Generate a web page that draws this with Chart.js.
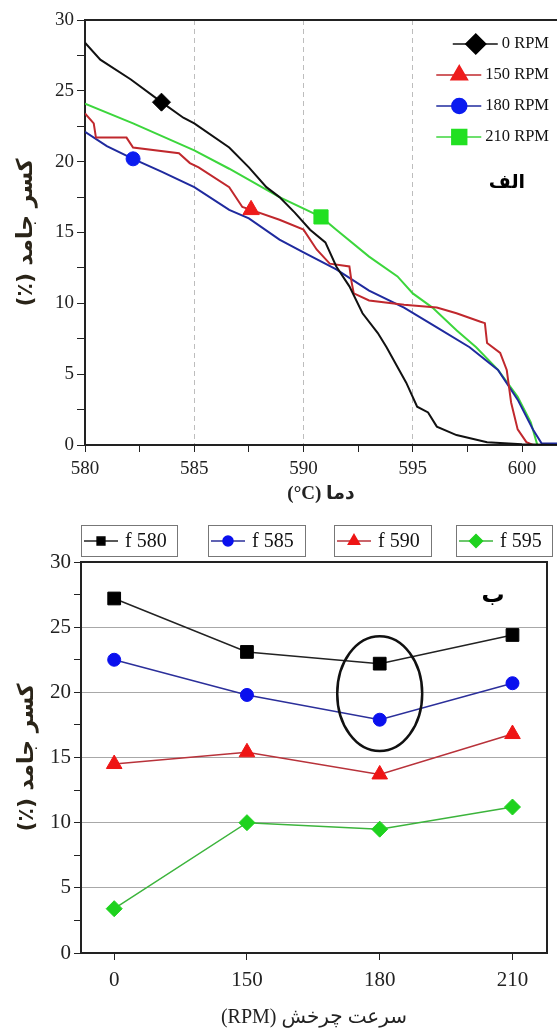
<!DOCTYPE html>
<html>
<head>
<meta charset="utf-8">
<script src="https://cdn.jsdelivr.net/npm/chart.js@4.4.1/dist/chart.umd.min.js"></script>
<style>
  html, body { margin: 0; padding: 0; background: #fff; }
  #top { position: absolute; left: 0; top: 0; }
  #bottom { position: absolute; left: 0; top: 510px; }
</style>
</head>
<body>
<canvas id="top" width="557" height="510"></canvas>
<canvas id="bottom" width="557" height="526"></canvas>
<script>
// --- chart (الف): solid fraction vs temperature ---
const rpm0Temp = [580, 580.7, 582.1, 583.5, 584.5, 585, 586.6, 587.5, 588.3, 588.9, 589.6, 590.3, 591.0, 591.5, 592.1, 592.7, 593.4, 593.8, 594.3, 594.7, 595.2, 595.7, 596.1, 597.0, 598.4, 600.0, 601.6];
const rpm0Frac = [28.4, 27.2, 25.8, 24.2, 23.1, 22.7, 21.0, 19.6, 18.2, 17.5, 16.4, 15.2, 14.3, 12.6, 11.2, 9.3, 7.9, 6.9, 5.5, 4.4, 2.7, 2.3, 1.3, 0.7, 0.2, 0.05, 0];

const rpm150Temp = [580, 580.4, 580.5, 581.9, 582.2, 584.3, 584.8, 585.2, 586.6, 587.2, 587.6, 588.9, 590.0, 590.6, 591.2, 592.1, 592.2, 592.3, 593.0, 594.6, 596.1, 597.0, 598.1, 598.3, 598.4, 599.0, 599.3, 599.5, 599.8, 600.2, 600.5];
const rpm150Frac = [23.4, 22.7, 21.7, 21.7, 21.0, 20.6, 19.9, 19.6, 18.2, 16.8, 16.6, 15.9, 15.2, 13.8, 12.8, 12.6, 11.5, 10.7, 10.2, 9.9, 9.7, 9.3, 8.7, 8.6, 7.2, 6.5, 5.3, 3.0, 1.1, 0.2, 0];

const rpm180Temp = [580, 581, 582.2, 583.5, 585, 586.6, 587.5, 588.9, 590, 591.5, 593.0, 594.6, 596.1, 597.6, 598.9, 599.8, 600.5, 600.9, 601.6];
const rpm180Frac = [22.1, 21.1, 20.2, 19.3, 18.2, 16.6, 16.0, 14.5, 13.6, 12.4, 10.9, 9.7, 8.3, 6.9, 5.3, 3.2, 1.1, 0.1, 0.1];

const rpm210Temp = [580, 582.2, 585, 586.6, 588.9, 590.8, 591.5, 593.0, 594.3, 595.0, 595.9, 597.0, 597.9, 598.9, 599.8, 600.4, 600.7];
const rpm210Frac = [24.1, 22.7, 20.8, 19.5, 17.5, 16.1, 15.2, 13.3, 11.9, 10.7, 9.7, 8.1, 6.9, 5.3, 3.4, 1.6, 0];

// index of the one marker drawn on each curve
const markerIndex = [3, 10, 2, 5];
const rpmLabels = ['0 RPM', '150 RPM', '180 RPM', '210 RPM'];
const tempTicks = [580, 582.5, 585, 587.5, 590, 592.5, 595, 597.5, 600];
const fracTicks = [0, 2.5, 5, 7.5, 10, 12.5, 15, 17.5, 20, 22.5, 25, 27.5, 30];

// --- chart (ب): solid fraction vs rotation speed ---
const speedLabels = ['0', '150', '180', '210'];
const f580 = [27.2, 23.1, 22.2, 24.4];
const f585 = [22.5, 19.8, 17.9, 20.7];
const f590 = [14.5, 15.4, 13.7, 16.8];
const f595 = [3.4, 10.0, 9.5, 11.2];
const seriesLabels = ['f 580', 'f 585', 'f 590', 'f 595'];

const serif = '"Liberation Serif", "DejaVu Serif", serif';
const persian = '"DejaVu Sans", sans-serif';
const RLE = '\u202B', PDF = '\u202C', LRM = '\u200E';

const toPoints = (xs, ys) => xs.map((x, i) => ({x: x, y: ys[i]}));
const minorFive = v => (Math.abs(v % 5) < 1e-6 ? String(v) : '');

function drawMarker(ctx, style, r, fill, x, y) {
  ctx.fillStyle = fill;
  ctx.strokeStyle = fill;
  Chart.helpers.drawPoint(ctx, {pointStyle: style, radius: r, borderWidth: 1, rotation: 0}, x, y);
}

const topLegend = {
  id: 'topLegend',
  afterDraw(chart) {
    const ctx = chart.ctx;
    ctx.save();
    ctx.font = '16.5px ' + serif;
    ctx.textBaseline = 'middle';
    chart.data.datasets.forEach((ds, i) => {
      const y = 44 + i * 31;
      const w = ctx.measureText(ds.label).width;
      const textX = 549 - w;
      const cx = textX - 26;
      ctx.strokeStyle = ds.borderColor;
      ctx.lineWidth = 1.5;
      ctx.beginPath();
      ctx.moveTo(cx - 23, y);
      ctx.lineTo(cx + 22, y);
      ctx.stroke();
      drawMarker(ctx, ds.pointStyle, ds.legendRadius, ds.pointBackgroundColor, cx, y);
      ctx.fillStyle = '#111';
      ctx.textAlign = 'left';
      ctx.fillText(ds.label, textX, y);
    });
    ctx.font = 'bold 19px ' + persian;
    ctx.textAlign = 'center';
    ctx.fillStyle = '#000';
    ctx.fillText('الف', 507, 183);
    // top frame line
    const a = chart.chartArea;
    ctx.strokeStyle = '#222';
    ctx.lineWidth = 2;
    ctx.beginPath();
    ctx.moveTo(a.left, a.top);
    ctx.lineTo(a.right, a.top);
    ctx.stroke();
    ctx.restore();
  }
};

const bottomDecor = {
  id: 'bottomDecor',
  afterDatasetsDraw(chart) {
    const ctx = chart.ctx;
    const {x, y} = chart.scales;
    const a = chart.chartArea;
    ctx.save();
    // frame top + right
    ctx.strokeStyle = '#222';
    ctx.lineWidth = 2;
    ctx.beginPath();
    ctx.moveTo(a.left, a.top);
    ctx.lineTo(a.right, a.top);
    ctx.lineTo(a.right, a.bottom);
    ctx.stroke();
    // ellipse around the 180 RPM points
    const cx = x.getPixelForValue(2), cy = y.getPixelForValue(19.9);
    const rx = x.getPixelForValue(2.32) - cx;
    const ry = cy - y.getPixelForValue(24.3);
    ctx.lineWidth = 2.5;
    ctx.strokeStyle = '#111';
    ctx.beginPath();
    ctx.ellipse(cx, cy, rx, ry, 0, 0, Math.PI * 2);
    ctx.stroke();
    ctx.font = 'bold 23px ' + persian;
    ctx.fillStyle = '#000';
    ctx.textAlign = 'center';
    ctx.textBaseline = 'middle';
    ctx.fillText('ب', 493, 86);
    // boxed legend
    const boxes = [81, 208, 334, 456];
    const boxW = [96, 97, 97, 96];
    ctx.font = '20px ' + serif;
    chart.data.datasets.forEach((ds, i) => {
      const bx = boxes[i], by = 15, bh = 31;
      ctx.strokeStyle = '#777';
      ctx.lineWidth = 1;
      ctx.strokeRect(bx + 0.5, by + 0.5, boxW[i], bh);
      const my = by + bh / 2 + 0.5;
      ctx.strokeStyle = ds.borderColor;
      ctx.lineWidth = 1.5;
      ctx.beginPath();
      ctx.moveTo(bx + 3, my);
      ctx.lineTo(bx + 37, my);
      ctx.stroke();
      drawMarker(ctx, ds.pointStyle, ds.legendRadius, ds.pointBackgroundColor, bx + 20, my);
      ctx.fillStyle = '#111';
      ctx.textAlign = 'left';
      ctx.fillText(ds.label, bx + 44, my + 1);
    });
    ctx.restore();
  }
};

function curve(i, temps, fracs, line, mark, style, r, legendR) {
  return {
    label: rpmLabels[i],
    data: toPoints(temps, fracs),
    borderColor: line,
    borderWidth: 2,
    pointStyle: style,
    pointBackgroundColor: mark,
    pointBorderColor: mark,
    pointBorderWidth: 1,
    pointRadius: ctx => (ctx.dataIndex === markerIndex[i] ? r : 0),
    pointHoverRadius: 0,
    legendRadius: legendR,
    tension: 0,
  };
}

new Chart(document.getElementById('top'), {
  type: 'line',
  data: {
    datasets: [
      curve(0, rpm0Temp, rpm0Frac, '#111', '#000', 'rectRot', 9, 10),
      curve(1, rpm150Temp, rpm150Frac, '#c0282d', '#ee1c1c', 'triangle', 9.5, 9.5),
      curve(2, rpm180Temp, rpm180Frac, '#1f2a9e', '#0b1cf0', 'circle', 7, 7.5),
      curve(3, rpm210Temp, rpm210Frac, '#3cd63c', '#22e022', 'rect', 10, 10.5),
    ]
  },
  options: {
    responsive: false,
    animation: false,
    devicePixelRatio: 1,
    layout: {padding: {top: 20, right: 0, left: 0, bottom: 0}},
    plugins: {legend: {display: false}, tooltip: {enabled: false}},
    scales: {
      x: {
        type: 'linear',
        min: 580,
        max: 601.6,
        afterBuildTicks: s => { s.ticks = tempTicks.map(v => ({value: v})); },
        afterFit: s => { s.height = 65; },
        ticks: {callback: minorFive, autoSkip: false, maxRotation: 0, padding: 6, color: '#222', font: {family: serif, size: 19}},
        grid: {
          color: c => ([585, 590, 595].includes(c.tick && c.tick.value) ? '#bdbdbd' : 'rgba(0,0,0,0)'),
          tickColor: '#222',
          tickLength: 7,
          lineWidth: 1,
        },
        border: {color: '#222', width: 2, dash: [5, 4]},
        title: {display: true, text: RLE + 'دما (' + LRM + '°C)' + PDF, color: '#222', font: {family: serif + ', ' + persian, size: 19, weight: 'bold'}, padding: {top: 0, bottom: 5}},
      },
      y: {
        min: 0,
        max: 30,
        afterBuildTicks: s => { s.ticks = fracTicks.map(v => ({value: v})); },
        afterFit: s => { s.width = 85; },
        ticks: {callback: minorFive, autoSkip: false, padding: 3, color: '#222', font: {family: serif, size: 19}},
        grid: {drawOnChartArea: false, tickColor: '#222', tickLength: 8},
        border: {color: '#222', width: 2},
        title: {display: true, text: 'کسر جامد (٪)\u200F', color: '#2a2418', font: {family: persian, size: 22, weight: 'bold'}, padding: {top: 13, bottom: 0}},
      }
    }
  },
  plugins: [topLegend]
});

function series(i, values, line, mark, style, r, legendR) {
  return {
    label: seriesLabels[i],
    data: values.map((v, k) => ({x: k, y: v})),
    borderColor: line,
    borderWidth: 1.5,
    pointStyle: style,
    pointBackgroundColor: mark,
    pointBorderColor: mark,
    pointBorderWidth: 1,
    pointRadius: r,
    pointHoverRadius: r,
    legendRadius: legendR,
    tension: 0,
  };
}

new Chart(document.getElementById('bottom'), {
  type: 'line',
  data: {
    datasets: [
      series(0, f580, '#222', '#000', 'rect', 9, 5.5),
      series(1, f585, '#2b2f9a', '#0a10ee', 'circle', 6.5, 5),
      series(2, f590, '#b8323a', '#ee1515', 'triangle', 9, 6.5),
      series(3, f595, '#3cb43c', '#1ed21e', 'rectRot', 8, 6.5),
    ]
  },
  options: {
    responsive: false,
    animation: false,
    devicePixelRatio: 1,
    layout: {padding: {top: 52, right: 10, left: 0, bottom: 0}},
    plugins: {legend: {display: false}, tooltip: {enabled: false}},
    scales: {
      x: {
        type: 'linear',
        min: -0.25,
        max: 3.26,
        afterBuildTicks: s => { s.ticks = speedLabels.map((_, i) => ({value: i})); },
        afterFit: s => { s.height = 83; },
        ticks: {callback: v => speedLabels[v], autoSkip: false, maxRotation: 0, padding: 8, color: '#222', font: {family: serif, size: 21}},
        grid: {drawOnChartArea: false, tickColor: '#222', tickLength: 7},
        border: {color: '#222', width: 2},
        title: {display: true, text: RLE + 'سرعت چرخش (RPM)' + PDF, color: '#222', font: {family: serif + ', ' + persian, size: 20}, padding: {top: 0, bottom: 6}},
      },
      y: {
        min: 0,
        max: 30,
        afterBuildTicks: s => { s.ticks = fracTicks.map(v => ({value: v})); },
        afterFit: s => { s.width = 81; },
        ticks: {callback: minorFive, autoSkip: false, padding: 3, color: '#222', font: {family: serif, size: 21}},
        grid: {
          color: c => {
            const v = c.tick && c.tick.value;
            return v > 0 && v < 30 && Math.abs(v % 5) < 1e-6 ? '#a8a8a8' : 'rgba(0,0,0,0)';
          },
          tickColor: '#222',
          tickLength: 7,
        },
        border: {color: '#222', width: 2},
        title: {display: true, text: 'کسر جامد (٪)\u200F', color: '#2a2418', font: {family: persian, size: 22, weight: 'bold'}, padding: {top: 14, bottom: 0}},
      }
    }
  },
  plugins: [bottomDecor]
});
</script>
</body>
</html>
